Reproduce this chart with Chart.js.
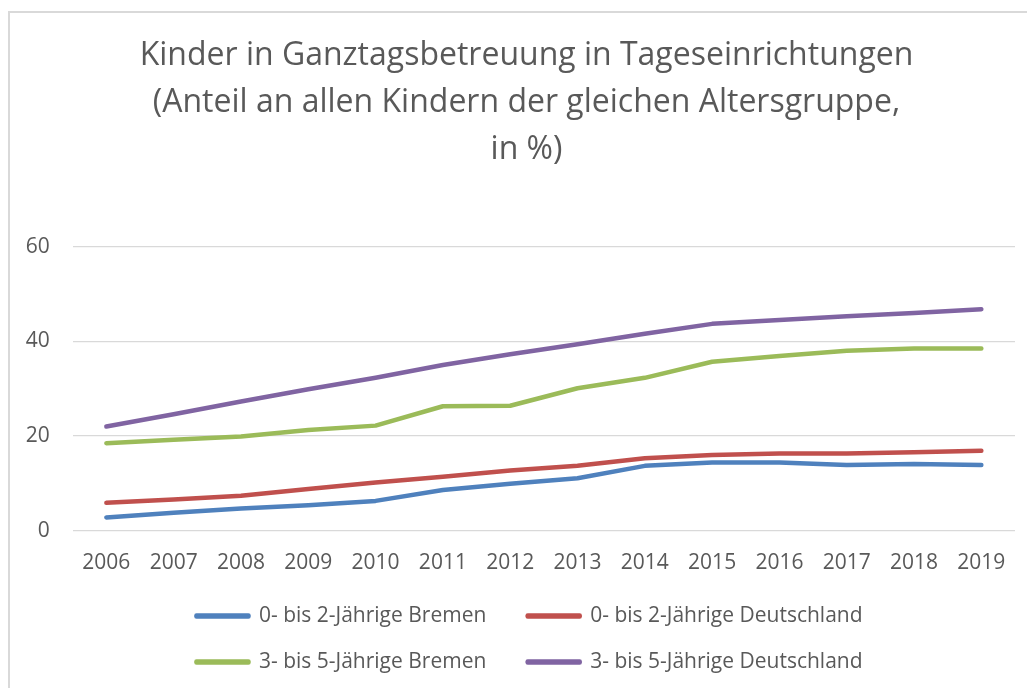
<!DOCTYPE html>
<html>
<head>
<meta charset="utf-8">
<script src="https://cdn.jsdelivr.net/npm/chart.js@4"></script>
<style>
  html, body { margin: 0; padding: 0; background: #fff; overflow: hidden; }
  #frame {
    position: absolute; left: 8px; top: 11px;
    width: 1040px; height: 700px;
    border: 2px solid #d9d9d9;
    background: #fff;
  }
  #myChart { display: block; }
</style>
</head>
<body>
<div id="frame">
  <canvas id="myChart" width="1034" height="675"></canvas>
</div>
<script>
// Jahre
const years = ['2006', '2007', '2008', '2009', '2010', '2011', '2012', '2013', '2014', '2015', '2016', '2017', '2018', '2019'];

// Anteil in %
const bremen02 = [2.8, 3.8, 4.7, 5.4, 6.3, 8.6, 9.9, 11.1, 13.7, 14.4, 14.4, 13.9, 14.1, 13.9];
const deutschland02 = [5.9, 6.6, 7.4, 8.8, 10.2, 11.4, 12.7, 13.7, 15.3, 16.0, 16.3, 16.3, 16.6, 16.9];
const bremen35 = [18.5, 19.2, 19.9, 21.3, 22.2, 26.3, 26.4, 30.1, 32.3, 35.7, 36.9, 38.0, 38.5, 38.5];
const deutschland35 = [22.0, 24.6, 27.3, 29.9, 32.3, 35.0, 37.3, 39.4, 41.6, 43.7, 44.5, 45.3, 46.0, 46.8];

const seriesNames = ['0- bis 2-Jährige Bremen', '0- bis 2-Jährige Deutschland', '3- bis 5-Jährige Bremen', '3- bis 5-Jährige Deutschland'];
const titleLines = ['Kinder in Ganztagsbetreuung in Tageseinrichtungen', '(Anteil an allen Kindern der gleichen Altersgruppe,', 'in %)'];
const yTicks = [0, 20, 40, 60];

const textColor = '#595959';
const gridColor = '#d9d9d9';

function makeLine(label, data, color) {
    return {
        label: label,
        data: data,
        borderColor: color,
        backgroundColor: color,
        borderWidth: 4.5,
        borderCapStyle: 'round',
        borderJoinStyle: 'round',
        pointRadius: 0,
        tension: 0,
        fill: false
    };
}

// Titel und Legende etwas nach rechts schieben (Rahmen geht rechts über das Bild hinaus)
const shiftBoxes = {
    id: 'shiftBoxes',
    afterLayout: function(chart) {
        if (chart.titleBlock) { chart.titleBlock.left += 14; chart.titleBlock.right += 14; }
        if (chart.legend) { chart.legend.left += 17; chart.legend.right += 17; }
    }
};

Chart.defaults.font.family = '"Open Sans", sans-serif';
Chart.defaults.color = textColor;

const ctx = document.getElementById('myChart').getContext('2d');
const myChart = new Chart(ctx, {
    type: 'line',
    data: {
        labels: years,
        datasets: [
            makeLine(seriesNames[0], bremen02, '#4f81bd'),
            makeLine(seriesNames[1], deutschland02, '#c0504d'),
            makeLine(seriesNames[2], bremen35, '#9bbb59'),
            makeLine(seriesNames[3], deutschland35, '#8064a2')
        ]
    },
    plugins: [shiftBoxes],
    options: {
        responsive: false,
        animation: false,
        layout: { padding: { left: 0, right: 29, top: 0, bottom: 5.5 } },
        plugins: {
            title: {
                display: true,
                text: titleLines,
                color: textColor,
                font: { size: 32, weight: 'normal', lineHeight: 1.469 },
                padding: { top: 19.5, bottom: 73.2 }
            },
            legend: {
                position: 'bottom',
                labels: {
                    color: textColor,
                    font: { size: 21 },
                    boxWidth: 52,
                    boxHeight: 1,
                    padding: 25,
                    generateLabels: function(chart) {
                        const items = Chart.defaults.plugins.legend.labels.generateLabels(chart);
                        // etwas Abstand nach den Bremen-Einträgen, damit zwei Spalten entstehen
                        items.forEach(function(item, i) {
                            if (i % 2 === 0) item.text = item.text + '   ';
                        });
                        return items;
                    }
                }
            },
            tooltip: { enabled: false }
        },
        scales: {
            x: {
                offset: true,
                grid: { display: false, drawTicks: false },
                border: { display: false },
                ticks: { font: { size: 21 }, color: textColor, padding: 20, maxRotation: 0 },
                afterFit: function(scale) { scale.height = 49.8; }
            },
            y: {
                min: 0,
                max: 60,
                grid: { color: gridColor, lineWidth: 1.3, drawTicks: false },
                border: { display: false },
                ticks: {
                    stepSize: 20,
                    padding: 23,
                    font: { size: 21 },
                    color: textColor,
                    callback: function(value) { return yTicks.includes(value) ? value : ''; }
                },
                afterFit: function(scale) { scale.width = 62.7; }
            }
        }
    }
});
</script>
</body>
</html>
